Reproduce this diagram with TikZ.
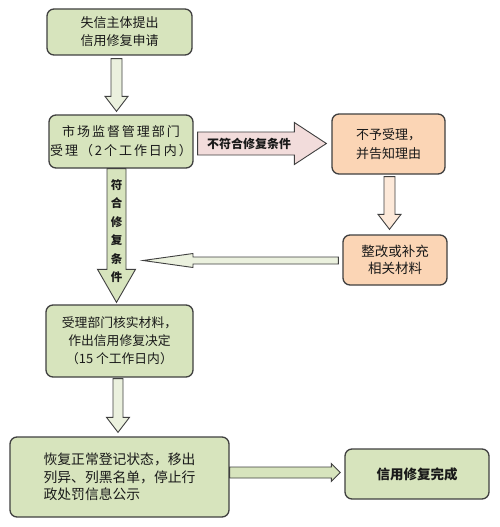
\documentclass[tikz,border=0pt]{standalone}
\usepackage{fontspec}
\newfontfamily\cjk{Noto Sans CJK SC}
\newfontfamily\cjkwide[LetterSpace=15]{Noto Sans CJK SC}
\usetikzlibrary{calc}
\definecolor{boxgreen}{HTML}{D7E4BD}
\definecolor{boxorange}{HTML}{FBD5B5}
\definecolor{arrpink}{HTML}{F2DCDB}
\definecolor{arrpeach}{HTML}{FDE9D9}
\definecolor{arrpale}{HTML}{EBF1DE}
\definecolor{edgegray}{HTML}{404040}
\tikzset{
  flowbox/.style={draw=edgegray, line width=1.3pt, rounded corners=7pt, fill=boxgreen,
    align=center, inner sep=0pt, text=black!90, font=\cjk\fontsize{13}{18}\selectfont},
  orangebox/.style={flowbox, fill=boxorange},
  blockarrow/.style={draw=edgegray, line width=0.9pt, line join=miter},
  arrowlabel/.style={inner sep=0pt, text=black!90, font=\cjk\bfseries\fontsize{12}{18}\selectfont},
}
% vertical (downward) block arrow: start, tip, shaft half width, head half width, head length, style
\newcommand{\vblock}[6]{\draw[blockarrow,#6] let \p1=#1, \p2=#2 in
  (\x1-#3,\y1) -- (\x1+#3,\y1) -- (\x1+#3,\y2+#5) -- (\x1+#4,\y2+#5) -- (\x1,\y2)
  -- (\x1-#4,\y2+#5) -- (\x1-#3,\y2+#5) -- cycle;}
% rightward block arrow
\newcommand{\hblockR}[6]{\draw[blockarrow,#6] let \p1=#1, \p2=#2 in
  (\x1,\y1+#3) -- (\x2-#5,\y1+#3) -- (\x2-#5,\y1+#4) -- (\x2,\y1) -- (\x2-#5,\y1-#4)
  -- (\x2-#5,\y1-#3) -- (\x1,\y1-#3) -- cycle;}
% leftward block arrow
\newcommand{\hblockL}[6]{\draw[blockarrow,#6] let \p1=#1, \p2=#2 in
  (\x1,\y1+#3) -- (\x2+#5,\y1+#3) -- (\x2+#5,\y1+#4) -- (\x2,\y1) -- (\x2+#5,\y1-#4)
  -- (\x2+#5,\y1-#3) -- (\x1,\y1-#3) -- cycle;}
\begin{document}
\begin{tikzpicture}[x=1pt,y=-1pt]
\useasboundingbox (0,0) rectangle (500,527);
\fill[white] (0,0) rectangle (500,527);

\node[flowbox, minimum width=145pt, minimum height=46pt] (b1) at (119.5,32) {失信主体提出\\信用修复申请};
\node[flowbox, minimum width=144pt, minimum height=53pt, font=\cjkwide\fontsize{13}{19}\selectfont] (b2) at (121,141.5) {市场监督管理部门\\受理（2个工作日内）};
\node[orangebox, minimum width=113pt, minimum height=60pt, font=\cjk\fontsize{13}{19}\selectfont] (b3) at (388.5,144) {不予受理，\\并告知理由};
\node[orangebox, minimum width=104pt, minimum height=50pt, font=\cjk\fontsize{13.5}{17.5}\selectfont] (b4) at (395,260) {整改或补充\\相关材料};
\node[flowbox, minimum width=147pt, minimum height=72pt, font=\cjk\fontsize{12.8}{18}\selectfont] (b5) at (119.5,341) {受理部门核实材料，\\作出信用修复决定\\（15 个工作日内）};
\node[flowbox, minimum width=219pt, minimum height=80pt, align=left, font=\cjk\fontsize{13.8}{17.5}\selectfont] (b6) at (119.5,477) {恢复正常登记状态，移出\\列异、列黑名单，停止行\\政处罚信息公示};
\node[flowbox, minimum width=144pt, minimum height=50pt, font=\cjk\bfseries\fontsize{13.5}{18}\selectfont] (b7) at (417,474) {信用修复完成};

\coordinate (back) at (143,260.5);

% arrows
\vblock{($(b1.south)+(-3,3)$)}{($(b2.north)+(0,-3)$)}{5.5pt}{11.5pt}{15pt}{fill=arrpale}
\hblockR{($(b2.east)+(4,2)$)}{($(b3.west)+(-5,0)$)}{11.5pt}{21pt}{32pt}{fill=arrpink}
\node[arrowlabel] (lblno) at (249,143.5) {不符合修复条件};
\vblock{($(b3.south)+(1,2)$)}{($(b4.north)+(0,-5)$)}{5.5pt}{11.5pt}{15pt}{fill=arrpeach}
\hblockL{($(b4.west)+(-4,0.5)$)}{(back)}{3.5pt}{7pt}{50pt}{fill=arrpale}
\vblock{($(b2.south)+(-4.5,0)$)}{($(b5.north)+(0,-2)$)}{9.5pt}{19pt}{33pt}{fill=boxgreen}
\node[arrowlabel, align=center, font=\cjk\bfseries\fontsize{11.5}{18.4}\selectfont] (lblyes) at (116.5,231) {符\\合\\修\\复\\条\\件};
\vblock{($(b5.south)+(-1.5,1)$)}{($(b6.north)+(0,-4)$)}{5pt}{11.5pt}{15pt}{fill=arrpale}
\hblockR{($(b6.east)+(0,-4.5)$)}{($(b7.west)+(-4,0)$)}{5.5pt}{9pt}{9pt}{fill=boxgreen}
\end{tikzpicture}
\end{document}
